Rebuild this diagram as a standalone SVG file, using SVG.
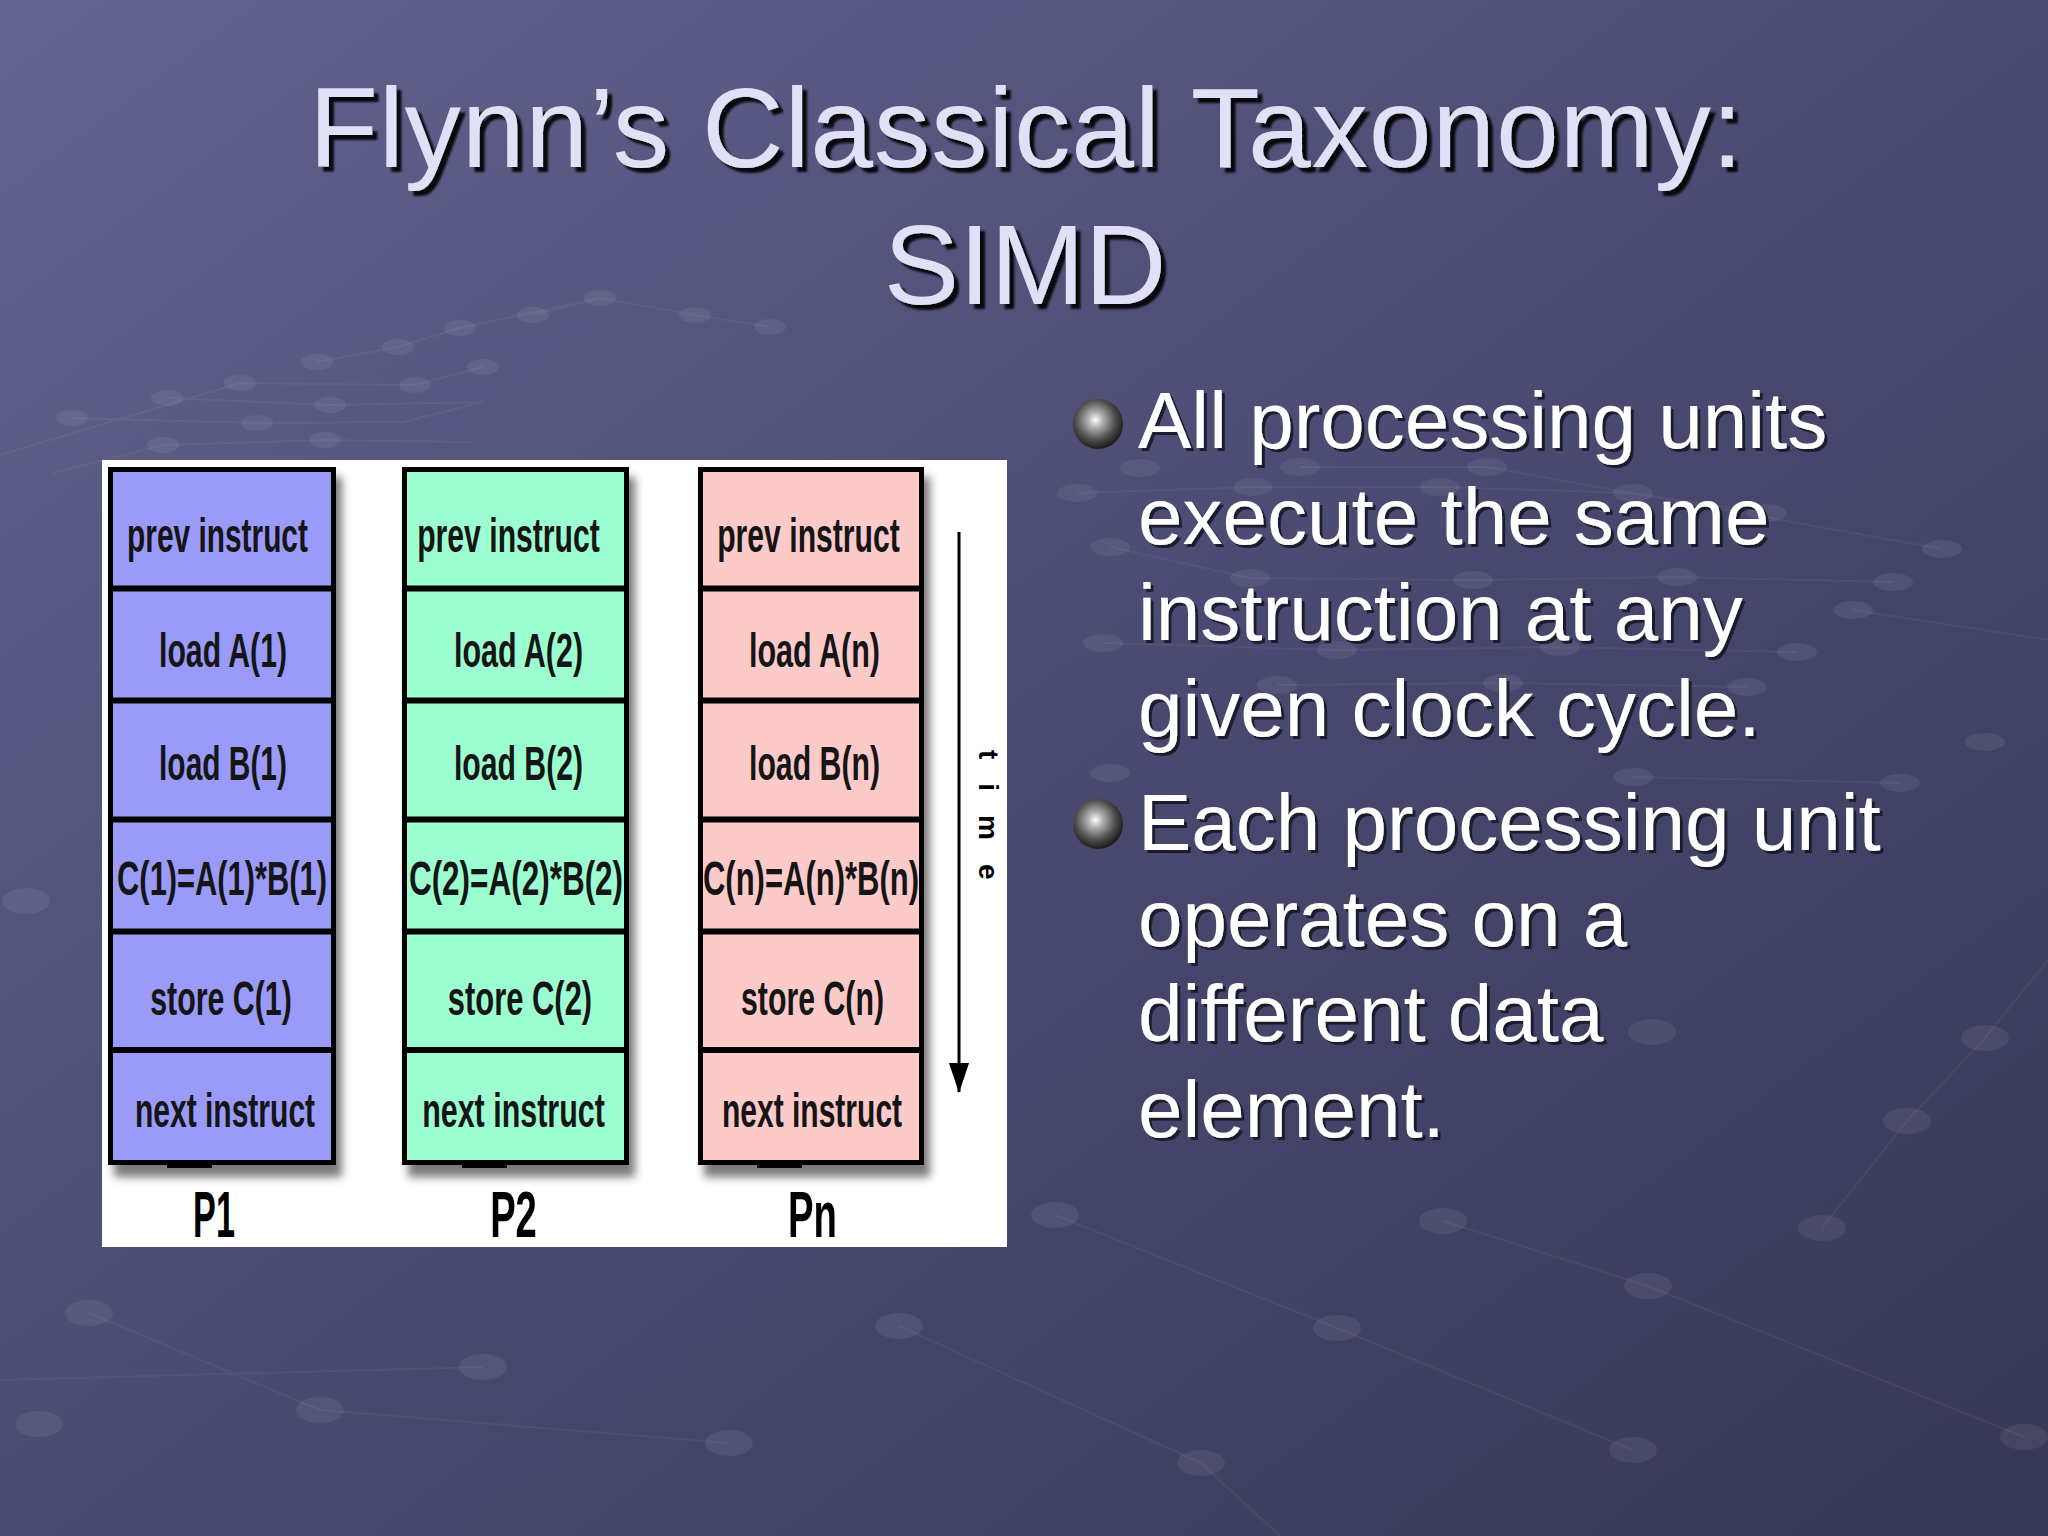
<svg xmlns="http://www.w3.org/2000/svg" width="2048" height="1536" viewBox="0 0 2048 1536">
  <defs>
    <linearGradient id="bg" x1="0" y1="0" x2="1" y2="1">
      <stop offset="0" stop-color="#63638f"/>
      <stop offset="0.5" stop-color="#4a4a72"/>
      <stop offset="1" stop-color="#373756"/>
    </linearGradient>
    <radialGradient id="ball" cx="0.45" cy="0.42" r="0.6">
      <stop offset="0" stop-color="#ffffff"/>
      <stop offset="0.25" stop-color="#b0b0b0"/>
      <stop offset="0.65" stop-color="#505050"/>
      <stop offset="1" stop-color="#151515"/>
    </radialGradient>
    <filter id="soft" x="-10%" y="-10%" width="130%" height="130%">
      <feGaussianBlur stdDeviation="4"/>
    </filter>
    <filter id="titleShadow" x="-5%" y="-20%" width="110%" height="150%">
      <feDropShadow dx="5" dy="5" stdDeviation="0.8" flood-color="#000" flood-opacity="0.9"/>
    </filter>
    <filter id="bulletShadow" x="-5%" y="-20%" width="110%" height="150%">
      <feDropShadow dx="3" dy="3" stdDeviation="0.6" flood-color="#15152a" flood-opacity="0.9"/>
    </filter>
    <marker id="arrow" viewBox="0 0 30 20" refX="29" refY="10" markerWidth="30" markerHeight="20" markerUnits="userSpaceOnUse" orient="auto">
      <path d="M0,0 L30,10 L0,20 Z" fill="#000"/>
    </marker>
    <style>
      .title { font-family: "Liberation Sans", Arial, sans-serif; font-size: 113px; text-anchor: middle; fill: #e0e0f6; filter: url(#titleShadow); }
      .bullet { font-family: "Liberation Sans", Arial, sans-serif; font-size: 80px; fill: #ffffff; filter: url(#bulletShadow); }
      .cell { font-family: "Liberation Sans", Arial, sans-serif; font-size: 48px; font-weight: bold; fill: #151515; text-anchor: middle; }
      .plabel { font-family: "Liberation Sans", Arial, sans-serif; font-size: 65px; font-weight: bold; fill: #000; text-anchor: middle; }
      .col { stroke: #000; stroke-width: 5; }
      .div { stroke: #000; stroke-width: 6; }
      .shadow { fill: #222; opacity: 0.6; filter: url(#soft); }
      .dot { fill: #ffffff; opacity: 0.07; }
      .net { stroke: #ffffff; stroke-opacity: 0.05; stroke-width: 2; fill: none; }
    </style>
  </defs>

  <!-- background -->
  <rect x="0" y="0" width="2048" height="1536" fill="url(#bg)"/>
  <g id="background-pattern">
    <path class="net" d="M53,473 L163,445 L325,440 L473,442 M72,418 L257,423 L403,422 L483,402 M167,398 L330,405 L482,402 M240,383 L415,385 L483,367 M317,362 L398,347 L460,328 L600,298 L695,315 L770,327 M533,315 L600,298 M0,455 L240,383"/>
    <ellipse class="dot" cx="600" cy="298" rx="16" ry="8"/>
    <ellipse class="dot" cx="533" cy="315" rx="16" ry="8"/>
    <ellipse class="dot" cx="695" cy="315" rx="16" ry="8"/>
    <ellipse class="dot" cx="770" cy="327" rx="16" ry="8"/>
    <ellipse class="dot" cx="460" cy="328" rx="16" ry="8"/>
    <ellipse class="dot" cx="398" cy="347" rx="16" ry="8"/>
    <ellipse class="dot" cx="317" cy="362" rx="16" ry="8"/>
    <ellipse class="dot" cx="240" cy="383" rx="16" ry="8"/>
    <ellipse class="dot" cx="415" cy="385" rx="16" ry="8"/>
    <ellipse class="dot" cx="483" cy="367" rx="16" ry="8"/>
    <ellipse class="dot" cx="167" cy="398" rx="16" ry="8"/>
    <ellipse class="dot" cx="330" cy="405" rx="16" ry="8"/>
    <ellipse class="dot" cx="72" cy="418" rx="16" ry="8"/>
    <ellipse class="dot" cx="257" cy="423" rx="16" ry="8"/>
    <ellipse class="dot" cx="163" cy="445" rx="16" ry="8"/>
    <ellipse class="dot" cx="325" cy="440" rx="16" ry="8"/>

    <path class="net" d="M1077,493 L1253,487 L1440,487 L1633,493 L1767,513 M1110,547 L1250,578 L1473,580 L1677,577 L1893,582 M1103,643 L1337,650 L1560,647 L1797,652 M1277,685 L1503,683 L1747,687 M1300,467 L1487,467 L1942,549 M1633,777 L1900,783 M1853,610 L2048,640"/>
    <ellipse class="dot" cx="1140" cy="468" rx="20" ry="9"/>
    <ellipse class="dot" cx="1077" cy="493" rx="20" ry="9"/>
    <ellipse class="dot" cx="1253" cy="487" rx="20" ry="9"/>
    <ellipse class="dot" cx="1300" cy="467" rx="20" ry="9"/>
    <ellipse class="dot" cx="1440" cy="487" rx="20" ry="9"/>
    <ellipse class="dot" cx="1110" cy="547" rx="20" ry="9"/>
    <ellipse class="dot" cx="1487" cy="467" rx="20" ry="9"/>
    <ellipse class="dot" cx="1250" cy="578" rx="20" ry="9"/>
    <ellipse class="dot" cx="1473" cy="580" rx="20" ry="9"/>
    <ellipse class="dot" cx="1103" cy="643" rx="20" ry="9"/>
    <ellipse class="dot" cx="1337" cy="650" rx="20" ry="9"/>
    <ellipse class="dot" cx="1277" cy="685" rx="20" ry="9"/>
    <ellipse class="dot" cx="1503" cy="683" rx="20" ry="9"/>
    <ellipse class="dot" cx="1110" cy="773" rx="20" ry="9"/>
    <ellipse class="dot" cx="1633" cy="493" rx="20" ry="9"/>
    <ellipse class="dot" cx="1767" cy="513" rx="20" ry="9"/>
    <ellipse class="dot" cx="1677" cy="577" rx="20" ry="9"/>
    <ellipse class="dot" cx="1893" cy="582" rx="20" ry="9"/>
    <ellipse class="dot" cx="1853" cy="610" rx="20" ry="9"/>
    <ellipse class="dot" cx="1560" cy="647" rx="20" ry="9"/>
    <ellipse class="dot" cx="1797" cy="652" rx="20" ry="9"/>
    <ellipse class="dot" cx="1747" cy="687" rx="20" ry="9"/>
    <ellipse class="dot" cx="1633" cy="777" rx="20" ry="9"/>
    <ellipse class="dot" cx="1900" cy="783" rx="20" ry="9"/>
    <ellipse class="dot" cx="1942" cy="549" rx="20" ry="9"/>
    <ellipse class="dot" cx="1985" cy="742" rx="20" ry="9"/>

    <path class="net" d="M0,1380 L483,1367 M89,1313 L320,1410 L729,1443 M899,1326 L1201,1463 M1055,1215 L1337,1328 L1633,1450 M1443,1221 L1648,1286 L2024,1437 M1822,1228 L1907,1121 L1985,1038 L2048,960 M1201,1463 L1280,1536"/>
    <ellipse class="dot" cx="1822" cy="1228" rx="24" ry="13"/>
    <ellipse class="dot" cx="1907" cy="1121" rx="24" ry="13"/>
    <ellipse class="dot" cx="1985" cy="1038" rx="24" ry="13"/>
    <ellipse class="dot" cx="1648" cy="1286" rx="24" ry="13"/>
    <ellipse class="dot" cx="1443" cy="1221" rx="24" ry="13"/>
    <ellipse class="dot" cx="1337" cy="1328" rx="24" ry="13"/>
    <ellipse class="dot" cx="1055" cy="1215" rx="24" ry="13"/>
    <ellipse class="dot" cx="899" cy="1326" rx="24" ry="13"/>
    <ellipse class="dot" cx="729" cy="1443" rx="24" ry="13"/>
    <ellipse class="dot" cx="483" cy="1367" rx="24" ry="13"/>
    <ellipse class="dot" cx="320" cy="1410" rx="24" ry="13"/>
    <ellipse class="dot" cx="89" cy="1313" rx="24" ry="13"/>
    <ellipse class="dot" cx="39" cy="1424" rx="24" ry="13"/>
    <ellipse class="dot" cx="1201" cy="1463" rx="24" ry="13"/>
    <ellipse class="dot" cx="1633" cy="1450" rx="24" ry="13"/>
    <ellipse class="dot" cx="2024" cy="1437" rx="24" ry="13"/>
    <ellipse class="dot" cx="1652" cy="1032" rx="24" ry="13"/>
    <ellipse class="dot" cx="26" cy="901" rx="24" ry="13"/>
  </g>

  <!-- title -->
  <g id="title">
    <text class="title" x="1026" y="167" textLength="1434" lengthAdjust="spacing">Flynn’s Classical Taxonomy:</text>
    <text class="title" x="1025" y="304">SIMD</text>
  </g>

  <!-- bullets -->
  <g id="bullets">
    <circle cx="1098" cy="424" r="25" fill="url(#ball)"/>
    <circle cx="1098" cy="824" r="25" fill="url(#ball)"/>
    <text class="bullet" x="1138" y="448">All processing units</text>
    <text class="bullet" x="1138" y="544">execute the same</text>
    <text class="bullet" x="1138" y="640">instruction at any</text>
    <text class="bullet" x="1138" y="736">given clock cycle.</text>
    <text class="bullet" x="1138" y="850">Each processing unit</text>
    <text class="bullet" x="1138" y="946">operates on a</text>
    <text class="bullet" x="1138" y="1041">different data</text>
    <text class="bullet" x="1138" y="1137">element.</text>
  </g>

  <!-- figure panel -->
  <rect x="102" y="460" width="905" height="787" fill="#ffffff"/>

  <g id="P1">
    <rect class="shadow" x="114" y="477" width="228" height="700"/>
    <rect class="col" x="110.5" y="469.5" width="223" height="693" fill="#9a9af8"/>
    <line class="div" x1="108" y1="588.5" x2="336" y2="588.5"/>
    <line class="div" x1="108" y1="700.5" x2="336" y2="700.5"/>
    <line class="div" x1="108" y1="819.5" x2="336" y2="819.5"/>
    <line class="div" x1="108" y1="931.5" x2="336" y2="931.5"/>
    <line class="div" x1="108" y1="1050" x2="336" y2="1050"/>
    <rect x="167" y="1163" width="45" height="5" fill="#000"/>
    <g transform="translate(217.5,552) scale(0.63,1)"><text class="cell" x="0" y="0" textLength="287" lengthAdjust="spacingAndGlyphs">prev instruct</text></g>
    <g transform="translate(223,667) scale(0.63,1)"><text class="cell" x="0" y="0" textLength="203" lengthAdjust="spacingAndGlyphs">load A(1)</text></g>
    <g transform="translate(223,780) scale(0.63,1)"><text class="cell" x="0" y="0" textLength="203" lengthAdjust="spacingAndGlyphs">load B(1)</text></g>
    <g transform="translate(222,895) scale(0.63,1)"><text class="cell" x="0" y="0" textLength="333" lengthAdjust="spacingAndGlyphs">C(1)=A(1)*B(1)</text></g>
    <g transform="translate(221,1015) scale(0.63,1)"><text class="cell" x="0" y="0" textLength="225" lengthAdjust="spacingAndGlyphs">store C(1)</text></g>
    <g transform="translate(225,1127) scale(0.63,1)"><text class="cell" x="0" y="0" textLength="286" lengthAdjust="spacingAndGlyphs">next instruct</text></g>
    <g transform="translate(214,1237) scale(0.55,1)"><text class="plabel" x="0" y="0" textLength="76" lengthAdjust="spacingAndGlyphs">P1</text></g>
  </g>

  <g id="P2">
    <rect class="shadow" x="408" y="477" width="227" height="700"/>
    <rect class="col" x="404.5" y="469.5" width="222" height="693" fill="#9cfdd0"/>
    <line class="div" x1="402" y1="588.5" x2="629" y2="588.5"/>
    <line class="div" x1="402" y1="700.5" x2="629" y2="700.5"/>
    <line class="div" x1="402" y1="819.5" x2="629" y2="819.5"/>
    <line class="div" x1="402" y1="931.5" x2="629" y2="931.5"/>
    <line class="div" x1="402" y1="1050" x2="629" y2="1050"/>
    <rect x="462" y="1163" width="45" height="5" fill="#000"/>
    <g transform="translate(508.5,552) scale(0.63,1)"><text class="cell" x="0" y="0" textLength="290" lengthAdjust="spacingAndGlyphs">prev instruct</text></g>
    <g transform="translate(518.5,667) scale(0.63,1)"><text class="cell" x="0" y="0" textLength="205" lengthAdjust="spacingAndGlyphs">load A(2)</text></g>
    <g transform="translate(518.5,780) scale(0.63,1)"><text class="cell" x="0" y="0" textLength="205" lengthAdjust="spacingAndGlyphs">load B(2)</text></g>
    <g transform="translate(516,895) scale(0.63,1)"><text class="cell" x="0" y="0" textLength="340" lengthAdjust="spacingAndGlyphs">C(2)=A(2)*B(2)</text></g>
    <g transform="translate(520,1015) scale(0.63,1)"><text class="cell" x="0" y="0" textLength="229" lengthAdjust="spacingAndGlyphs">store C(2)</text></g>
    <g transform="translate(513.5,1127) scale(0.63,1)"><text class="cell" x="0" y="0" textLength="290" lengthAdjust="spacingAndGlyphs">next instruct</text></g>
    <g transform="translate(513.5,1237) scale(0.55,1)"><text class="plabel" x="0" y="0" textLength="85" lengthAdjust="spacingAndGlyphs">P2</text></g>
  </g>

  <g id="Pn">
    <rect class="shadow" x="704" y="477" width="226" height="700"/>
    <rect class="col" x="700.5" y="469.5" width="221" height="693" fill="#fdcaca"/>
    <line class="div" x1="698" y1="588.5" x2="924" y2="588.5"/>
    <line class="div" x1="698" y1="700.5" x2="924" y2="700.5"/>
    <line class="div" x1="698" y1="819.5" x2="924" y2="819.5"/>
    <line class="div" x1="698" y1="931.5" x2="924" y2="931.5"/>
    <line class="div" x1="698" y1="1050" x2="924" y2="1050"/>
    <rect x="757" y="1163" width="45" height="5" fill="#000"/>
    <g transform="translate(808.5,552) scale(0.63,1)"><text class="cell" x="0" y="0" textLength="290" lengthAdjust="spacingAndGlyphs">prev instruct</text></g>
    <g transform="translate(814.5,667) scale(0.63,1)"><text class="cell" x="0" y="0" textLength="208" lengthAdjust="spacingAndGlyphs">load A(n)</text></g>
    <g transform="translate(814.5,780) scale(0.63,1)"><text class="cell" x="0" y="0" textLength="208" lengthAdjust="spacingAndGlyphs">load B(n)</text></g>
    <g transform="translate(811,895) scale(0.63,1)"><text class="cell" x="0" y="0" textLength="343" lengthAdjust="spacingAndGlyphs">C(n)=A(n)*B(n)</text></g>
    <g transform="translate(812.5,1015) scale(0.63,1)"><text class="cell" x="0" y="0" textLength="227" lengthAdjust="spacingAndGlyphs">store C(n)</text></g>
    <g transform="translate(812,1127) scale(0.63,1)"><text class="cell" x="0" y="0" textLength="286" lengthAdjust="spacingAndGlyphs">next instruct</text></g>
    <g transform="translate(812.5,1237) scale(0.55,1)"><text class="plabel" x="0" y="0" textLength="89" lengthAdjust="spacingAndGlyphs">Pn</text></g>
  </g>

  <!-- connectors -->
  <g id="connectors">
    <line x1="959" y1="532" x2="959" y2="1092" stroke="#000" stroke-width="3" marker-end="url(#arrow)"/>
  </g>

  <g id="time-label">
    <text transform="translate(979,750) rotate(90)" font-family="Liberation Sans, Arial, sans-serif" font-size="28" font-weight="bold" letter-spacing="24" fill="#000">time</text>
  </g>
</svg>
